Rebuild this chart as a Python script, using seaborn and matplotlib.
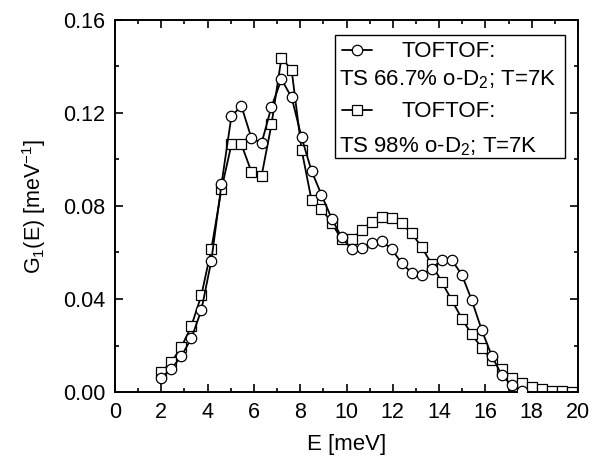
import matplotlib
matplotlib.use("Agg")
import matplotlib.pyplot as plt
from matplotlib.lines import Line2D
from matplotlib.patches import Rectangle
from matplotlib.ticker import MultipleLocator
import seaborn as sns
import pandas as pd

E = [2.00, 2.43, 2.87, 3.30, 3.73, 4.16, 4.60, 5.03, 5.46, 5.89,
     6.33, 6.76, 7.19, 7.63, 8.06, 8.49, 8.92, 9.36, 9.79, 10.22,
     10.65, 11.09, 11.52, 11.95, 12.38, 12.82, 13.25, 13.68, 14.11, 14.55,
     14.98, 15.41, 15.84, 16.28, 16.71, 17.14, 17.58, 18.01, 18.44, 18.87,
     19.31, 19.74]

g_667 = [0.0062, 0.0099, 0.0155, 0.0231, 0.0352, 0.0564, 0.0894, 0.1187, 0.1230, 0.1093,
         0.1070, 0.1227, 0.1345, 0.1267, 0.1095, 0.0951, 0.0848, 0.0746, 0.0665, 0.0614,
         0.0620, 0.0641, 0.0649, 0.0615, 0.0555, 0.0512, 0.0505, 0.0531, 0.0568, 0.0567,
         0.0505, 0.0395, 0.0267, 0.0154, 0.0072, 0.0029, 0.0003]

g_98 = [0.0086, 0.0129, 0.0194, 0.0284, 0.0416, 0.0614, 0.0873, 0.1065, 0.1065, 0.0948,
        0.0929, 0.1151, 0.1438, 0.1385, 0.1042, 0.0825, 0.0789, 0.0727, 0.0656, 0.0656,
        0.0696, 0.0732, 0.0753, 0.0749, 0.0725, 0.0682, 0.0623, 0.0550, 0.0474, 0.0395,
        0.0316, 0.0248, 0.0190, 0.0138, 0.0098, 0.0062, 0.0039, 0.0022, 0.0012, 0.0005,
        0.0003, 0.0002]

label_head = "TOFTOF:"
label_667 = "TS 66.7% o-D$_2$; T=7K"
label_98 = "TS 98% o-D$_2$; T=7K"

sns.set_style("ticks")
plt.rcParams["font.family"] = ["Liberation Sans", "DejaVu Sans"]
plt.rcParams["mathtext.fontset"] = "custom"
plt.rcParams["mathtext.rm"] = "Liberation Sans"
plt.rcParams["mathtext.it"] = "Liberation Sans"
plt.rcParams["text.color"] = "black"
plt.rcParams["axes.labelcolor"] = "black"
plt.rcParams["xtick.color"] = "black"
plt.rcParams["ytick.color"] = "black"

FS = 15.5
LFS = 16
fig = plt.figure(figsize=(5.92, 4.61), dpi=100)
ax = fig.add_axes([115/592, 1-392/461, 463/592, 372/461])

df1 = pd.DataFrame({"E": E[:len(g_667)], "G": g_667})
df2 = pd.DataFrame({"E": E, "G": g_98})

sns.lineplot(data=df1, x="E", y="G", ax=ax, color="black", linewidth=1.3,
             marker="o", markersize=7.5, markerfacecolor="white",
             markeredgecolor="black", markeredgewidth=0.9, zorder=3)
sns.lineplot(data=df2, x="E", y="G", ax=ax, color="black", linewidth=1.3,
             marker="s", markersize=7, markerfacecolor="white",
             markeredgecolor="black", markeredgewidth=0.9, zorder=2)

ax.set_xlim(0, 20)
ax.set_ylim(0, 0.16)
ax.xaxis.set_major_locator(MultipleLocator(2))
ax.xaxis.set_minor_locator(MultipleLocator(1))
ax.yaxis.set_major_locator(MultipleLocator(0.04))
ax.yaxis.set_minor_locator(MultipleLocator(0.02))
ax.yaxis.set_major_formatter(plt.FuncFormatter(lambda v, p: f"{v:.2f}"))
ax.tick_params(which="both", direction="in", top=True, right=True,
               labelsize=FS, width=1.2, colors="black")
ax.tick_params(which="major", length=6)
ax.tick_params(which="minor", length=3)
ax.tick_params(axis="x", which="major", pad=7)
ax.tick_params(axis="y", which="major", pad=7)
for s in ax.spines.values():
    s.set_linewidth(1.4)
    s.set_color("black")

ax.set_xlabel("E [meV]", fontsize=16, labelpad=8)
ax.set_ylabel("G$_1$(E) [meV$^{-1}$]", fontsize=FS, labelpad=11)

def axc(px, py):
    return ((px - 115) / 463, (392 - py) / 372)

x0, y0 = axc(335, 158)
x1, y1 = axc(565, 35)
ax.add_patch(Rectangle((x0, y0), x1 - x0, y1 - y0, transform=ax.transAxes,
                       fill=True, facecolor="white", edgecolor="black",
                       linewidth=1.0, zorder=5))

rows = [(50, 57, 85, label_667, "o", 7.5), (110, 117, 152, label_98, "s", 7)]
for (hy_px, b1_px, b2_px, row_text, mk, ms) in rows:
    hx0, hy = axc(342, hy_px)
    hx1, _ = axc(372, hy_px)
    ax.add_line(Line2D([hx0, hx1], [hy, hy], transform=ax.transAxes, color="black",
                       linewidth=1.3, zorder=6))
    hm, _ = axc(357, hy_px)
    ax.add_line(Line2D([hm], [hy], transform=ax.transAxes, marker=mk, markersize=ms,
                       markerfacecolor="white", markeredgecolor="black",
                       markeredgewidth=0.9, linestyle="none", zorder=7))
    tx, ty = axc(402, b1_px)
    ax.text(tx, ty, label_head, transform=ax.transAxes, fontsize=LFS,
            va="baseline", ha="left", zorder=7)
    t2x, t2y = axc(339, b2_px)
    ax.text(t2x, t2y, row_text, transform=ax.transAxes, fontsize=LFS,
            va="baseline", ha="left", zorder=7)

fig.savefig("out.png", dpi=100)
